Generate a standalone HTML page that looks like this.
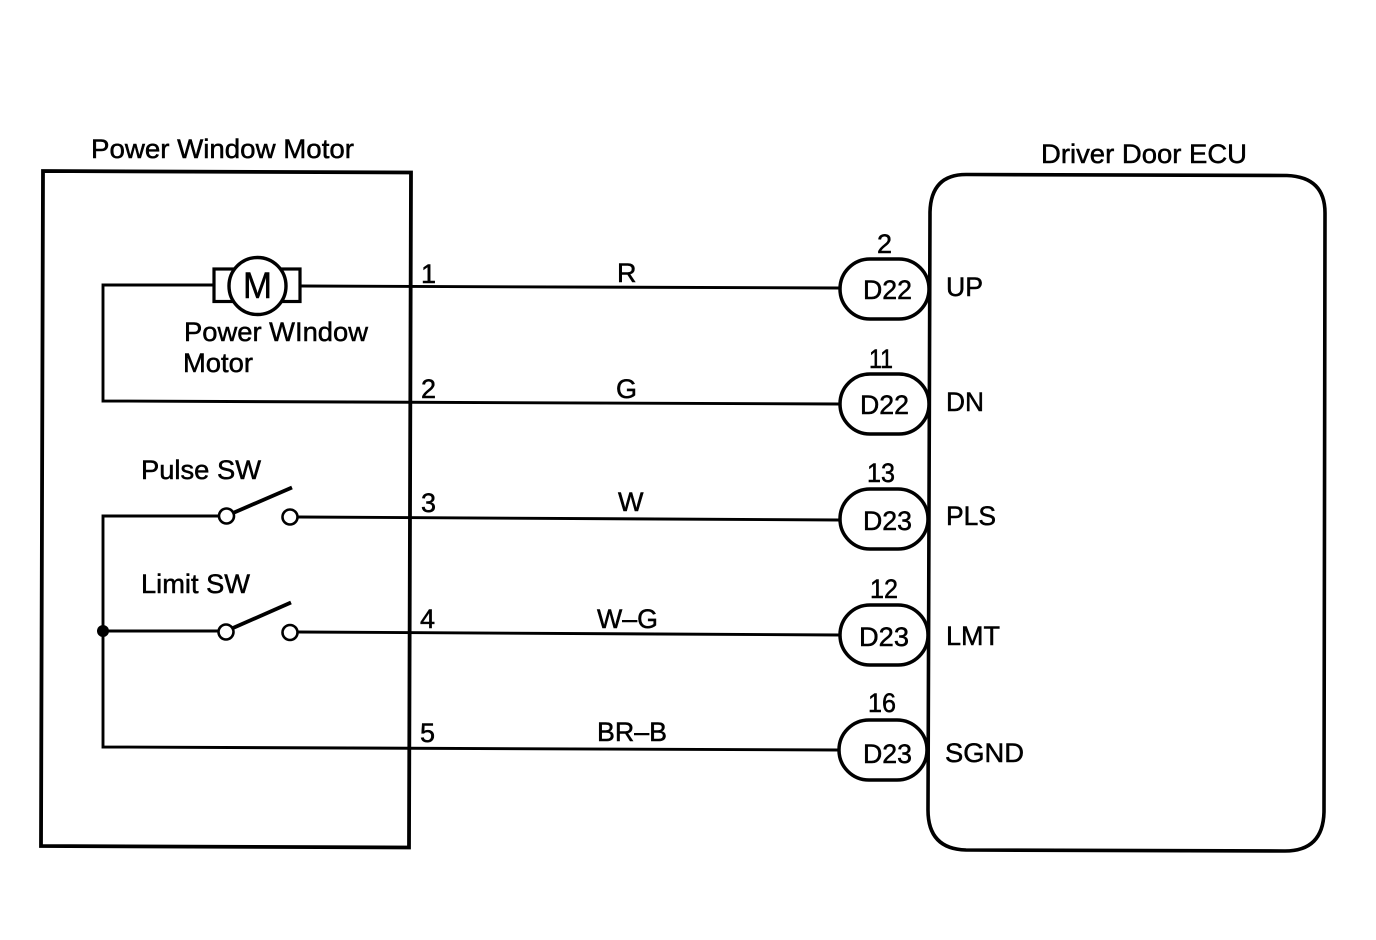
<!DOCTYPE html>
<html>
<head>
<meta charset="utf-8">
<style>
html,body{margin:0;padding:0;background:#fff;width:1376px;height:940px;overflow:hidden}
svg{display:block}
text{font-family:"Liberation Sans",Arial,sans-serif;fill:#000;font-size:27px;stroke:#000;stroke-width:.5px}
</style>
</head>
<body>
<svg width="1376" height="940" viewBox="0 0 1376 940" xmlns="http://www.w3.org/2000/svg">
<g fill="none" stroke="#000" stroke-linejoin="miter">
  <path d="M43 171 L411 172.5 L409 847.5 L41 846 Z" stroke-width="3.8"/>
  <path d="M967 174.5 L1287 175.5 Q1325 177 1325 213 L1324 812 Q1323 851 1285 851 L966 850 Q928 849 928 810 L930 212 Q931 174 967 174.5 Z" stroke-width="3.6"/>

  <g stroke-width="2.9">
    <path d="M213 285 H103 V401 L840 404"/>
    <path d="M301 286 L840 288"/>
    <path d="M219 516 H103 V747 L840 750"/>
    <path d="M298 517 L840 520"/>
    <path d="M103 631 H219"/>
    <path d="M298 632 L840 635"/>
  </g>

  <rect x="214" y="269" width="86" height="32.500" stroke-width="3.200"/>
  <circle cx="257.500" cy="286" r="28.500" fill="#fff" stroke-width="3.400"/>

  <g stroke-width="3.800">
    <path d="M233 513 L292 487.500"/>
    <path d="M233 628 L291 602.500"/>
  </g>
  <g fill="#fff" stroke-width="2.600">
    <circle cx="226.500" cy="516" r="7.500"/>
    <circle cx="290" cy="517" r="7.500"/>
    <circle cx="226" cy="632" r="7.500"/>
    <circle cx="290" cy="632.500" r="7.500"/>
  </g>
  <circle cx="103" cy="631" r="6" fill="#000" stroke="none"/>

  <g fill="#fff" stroke-width="3.500">
    <rect x="840" y="259" width="89" height="60" rx="30" ry="30"/>
    <rect x="840" y="374" width="89" height="60" rx="30" ry="30"/>
    <rect x="840" y="489" width="88" height="60" rx="30" ry="30"/>
    <rect x="840" y="605" width="88" height="60" rx="30" ry="30"/>
    <rect x="839" y="720" width="88" height="60" rx="30" ry="30"/>
  </g>
</g>

<text x="91" y="158" textLength="263" lengthAdjust="spacingAndGlyphs">Power Window Motor</text>
<text x="1041" y="163" textLength="206" lengthAdjust="spacingAndGlyphs">Driver Door ECU</text>
<text x="243" y="298" style="font-size:37px" textLength="29" lengthAdjust="spacingAndGlyphs">M</text>
<text x="184" y="341" textLength="184" lengthAdjust="spacingAndGlyphs">Power WIndow</text>
<text x="183" y="372" textLength="70" lengthAdjust="spacingAndGlyphs">Motor</text>
<text x="141" y="479" textLength="120" lengthAdjust="spacingAndGlyphs">Pulse SW</text>
<text x="141" y="593" textLength="109" lengthAdjust="spacingAndGlyphs">Limit SW</text>

<text x="421" y="283">1</text>
<text x="421" y="398">2</text>
<text x="421" y="512">3</text>
<text x="420" y="628">4</text>
<text x="420" y="742">5</text>

<text x="617" y="282">R</text>
<text x="616" y="398">G</text>
<text x="618" y="511">W</text>
<text x="597" y="628" textLength="61" lengthAdjust="spacingAndGlyphs">W–G</text>
<text x="597" y="741" textLength="70" lengthAdjust="spacingAndGlyphs">BR–B</text>

<text x="877" y="253">2</text>
<text x="869" y="368" textLength="24" lengthAdjust="spacingAndGlyphs">11</text>
<text x="867" y="482" textLength="28" lengthAdjust="spacingAndGlyphs">13</text>
<text x="870" y="598" textLength="28" lengthAdjust="spacingAndGlyphs">12</text>
<text x="868" y="712" textLength="28" lengthAdjust="spacingAndGlyphs">16</text>

<text x="863" y="299" textLength="49" lengthAdjust="spacingAndGlyphs">D22</text>
<text x="860" y="414" textLength="49" lengthAdjust="spacingAndGlyphs">D22</text>
<text x="863" y="530" textLength="49" lengthAdjust="spacingAndGlyphs">D23</text>
<text x="859" y="646" textLength="50" lengthAdjust="spacingAndGlyphs">D23</text>
<text x="863" y="763" textLength="49" lengthAdjust="spacingAndGlyphs">D23</text>

<text x="946" y="296" textLength="37" lengthAdjust="spacingAndGlyphs">UP</text>
<text x="946" y="411" textLength="38" lengthAdjust="spacingAndGlyphs">DN</text>
<text x="946" y="525" textLength="50" lengthAdjust="spacingAndGlyphs">PLS</text>
<text x="946" y="645" textLength="54" lengthAdjust="spacingAndGlyphs">LMT</text>
<text x="945" y="762" textLength="79" lengthAdjust="spacingAndGlyphs">SGND</text>
</svg>
</body>
</html>
